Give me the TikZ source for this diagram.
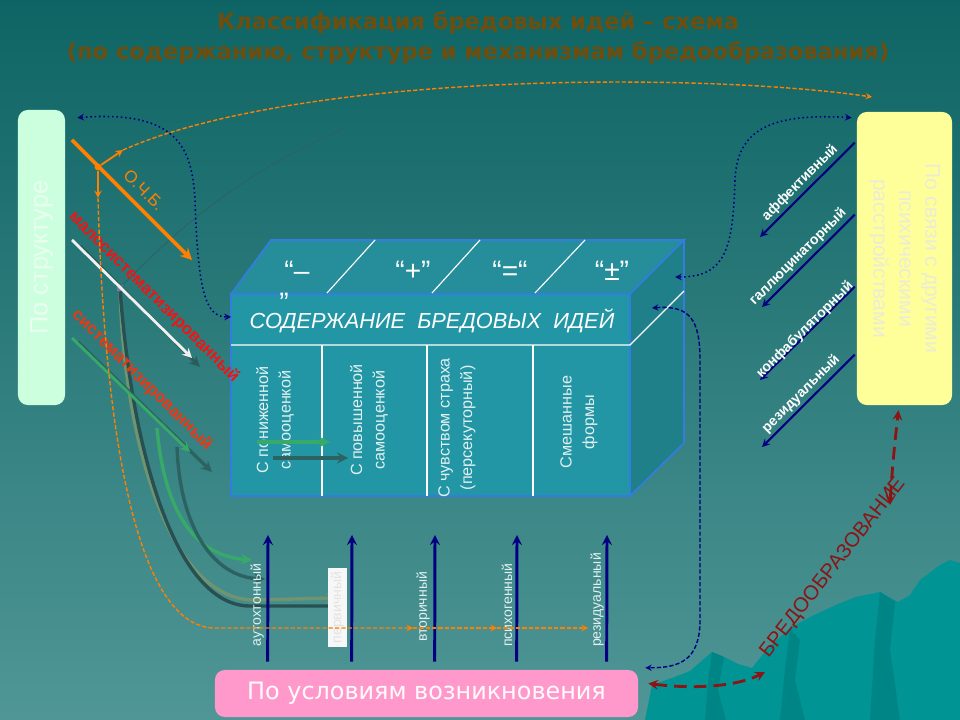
\documentclass[tikz,border=0pt]{standalone}
\usepackage{fontspec}
\setmainfont{Liberation Sans}
\newfontfamily\comicfont{DejaVu Sans}
\usepackage{graphicx}
\usepackage{tikz}
\usetikzlibrary{shapes.geometric, arrows}

\definecolor{bgtop}{RGB}{14,100,100}
\definecolor{bgbot}{RGB}{80,150,150}
\definecolor{hill}{RGB}{0,148,148}
\definecolor{hilldark}{RGB}{0,133,135}
\definecolor{titlebrown}{RGB}{110,78,14}
\definecolor{mint}{RGB}{204,255,221}
\definecolor{minttext}{RGB}{234,255,242}
\definecolor{lemon}{RGB}{255,255,153}
\definecolor{lemontext}{RGB}{236,236,214}
\definecolor{pinkpanel}{RGB}{255,153,204}
\definecolor{boxfront}{RGB}{34,150,165}
\definecolor{boxtop}{RGB}{38,142,154}
\definecolor{boxside}{RGB}{32,128,138}
\definecolor{boxedge}{RGB}{50,125,225}
\definecolor{colwhite}{RGB}{225,240,240}
\definecolor{navyarrow}{RGB}{0,0,128}
\definecolor{ocb}{RGB}{255,128,0}
\definecolor{redtext}{RGB}{240,20,20}
\definecolor{redorange}{RGB}{235,55,20}
\definecolor{darkred}{RGB}{140,20,20}
\definecolor{greenline}{RGB}{55,170,105}
\definecolor{grayline}{RGB}{110,148,112}
\definecolor{darkline}{RGB}{40,80,82}
\definecolor{tealline}{RGB}{45,98,98}
\definecolor{knotcolor}{RGB}{120,120,170}

\tikzstyle{panel} = [rectangle, rounded corners=7pt, inner sep=0pt]
\tikzstyle{titletext} = [align=center, text=titlebrown, font=\comicfont\bfseries\fontsize{16}{21.5}\selectfont]
\tikzstyle{headtext} = [text=white, font=\itshape\fontsize{15.5}{15.5}\selectfont]
\tikzstyle{quotetext} = [text=white, font=\fontsize{20}{20}\selectfont]
\tikzstyle{coltext} = [align=center, rotate=90, text=colwhite, font=\fontsize{11.5}{16}\selectfont]
\tikzstyle{sidetext} = [rotate=45, text=white, font=\bfseries\fontsize{10}{10}\selectfont]
\tikzstyle{bottomtext} = [rotate=90, text=colwhite, font=\fontsize{10}{10}\selectfont]
\tikzstyle{redlabel} = [rotate=-45, font=\bfseries\fontsize{12}{12}\selectfont]
\tikzstyle{navyup} = [line width=2.1pt, draw=navyarrow, ->, >=stealth]
\tikzstyle{navyside} = [line width=1.5pt, draw=navyarrow, ->, >=stealth]
\tikzstyle{dotlink} = [line width=1.1pt, draw=navyarrow, dotted, <->, >=stealth]
\tikzstyle{dashlink} = [line width=1pt, draw=navyarrow, dash pattern=on 3pt off 1.5pt, <->, >=stealth]
\tikzstyle{ocbthick} = [line width=2.6pt, draw=ocb, ->, >=stealth]
\tikzstyle{ocbthin} = [line width=1.3pt, draw=ocb, ->, >=stealth]
\tikzstyle{ocbdash} = [line width=1pt, draw=ocb, dash pattern=on 3pt off 1.5pt, ->, >=stealth]
\tikzstyle{reddash} = [line width=2pt, draw=darkred, dash pattern=on 9pt off 5pt, <->, >=stealth]
\tikzstyle{branch} = [line width=2.4pt, ->, >=stealth]

\begin{document}
\begin{tikzpicture}[x=0.025cm, y=-0.025cm]
			\useasboundingbox (0,0) rectangle (960,720);
			\shade[top color=bgtop, bottom color=bgbot] (0,0) rectangle (960,720);
			\fill[hill] (645,720) -- (652,685) -- (672,678) -- (690,671) -- (712,652) -- (724,657) -- (738,664) -- (752,668) -- (768,648) -- (790,628) -- (812,616) -- (838,604) -- (856,597) -- (880,592) -- (898,602) -- (910,595) -- (920,580) -- (940,565) -- (950,560) -- (960,563) -- (960,720) -- cycle;
			\fill[hilldark] (712,652) -- (724,657) -- (718,690) -- (726,720) -- (705,720) -- (708,680) -- cycle;
			\fill[hilldark] (790,628) -- (800,640) -- (795,680) -- (805,720) -- (780,720) -- (785,670) -- cycle;
			\fill[hilldark] (880,592) -- (895,602) -- (890,650) -- (900,720) -- (870,720) -- (875,640) -- cycle;

			\node (title) [titletext] at (478,38) {Классификация бредовых идей – схема\\(по содержанию, структуре и механизмам бредообразования)};

			\node (struct) [panel, fill=mint, minimum width=1.175cm, minimum height=7.375cm] at (41.5,257.5) {\rotatebox{90}{\color{minttext}\fontsize{18}{18}\selectfont По структуре}};
			\node (conn) [panel, fill=lemon, minimum width=2.375cm, minimum height=7.325cm] at (904.5,258.5) {\rotatebox{-90}{\color{lemontext}\fontsize{15}{18.5}\selectfont\begin{tabular}{@{}c@{}}По связи с другими\\психическими\\расстройствами\end{tabular}}};
			\node (cond) [panel, fill=pinkpanel, minimum width=10.575cm, minimum height=1.175cm] at (426.5,693.5) {\color{white!94!pink}\comicfont\fontsize{17}{17}\selectfont По условиям возникновения};

			\coordinate (ftl) at (231,294);
			\coordinate (ftr) at (630,294);
			\coordinate (fbr) at (630,496);
			\coordinate (btl) at (271,240);
			\coordinate (btr) at (684,240);
			\coordinate (bbr) at (684,443);
			\filldraw[fill=boxtop, draw=boxedge, line width=1.2pt] (ftl) -- (btl) -- (btr) -- (ftr) -- cycle;
			\filldraw[fill=boxside, draw=boxedge, line width=1.2pt] (ftr) -- (btr) -- (bbr) -- (fbr) -- cycle;
			\filldraw[fill=boxfront, draw=boxedge, line width=1.2pt] (ftl) rectangle (fbr);
			\draw[white, line width=0.8pt] (231,345) -- (630,345) -- (684,291);
			\draw[white, line width=0.8pt] (322,345) -- (322,496);
			\draw[white, line width=0.8pt] (427,345) -- (427,496);
			\draw[white, line width=0.8pt] (533,345) -- (533,496);
			\draw[white, line width=0.8pt] (327,293) -- (375,240);
			\draw[white, line width=0.8pt] (432,293) -- (480,240);
			\draw[white, line width=0.8pt] (535,293) -- (585,240);

			\node (content) [headtext] at (432,321) {СОДЕРЖАНИЕ\ \ БРЕДОВЫХ\ \ ИДЕЙ};
			\node (minus) [quotetext] at (297,271) {“–};
			\node (minusend) [quotetext] at (284,303) {”};
			\node (plus) [quotetext] at (413,271) {“+”};
			\node (equal) [quotetext] at (510,271) {“=“};
			\node (plusminus) [quotetext] at (612,271) {“±”};
			\node (low) [coltext] at (275,420) {С пониженной\\самооценкой};
			\node (high) [coltext] at (369,420) {С повышенной\\самооценкой};
			\node (fear) [coltext] at (457,428) {С чувством страха\\(персекуторный)};
			\node (mixed) [coltext] at (579,422) {Смешанные\\формы};

			\coordinate (aff) at (760,237);
			\coordinate (hall) at (762,307);
			\coordinate (confab) at (760,380);
			\coordinate (resid) at (762,447);
			\draw [navyside] ([shift={(-2,31)}]conn.north west) -- (aff);
			\draw [navyside] ([shift={(-2,103)}]conn.north west) -- (hall);
			\draw [navyside] ([shift={(-2,175)}]conn.north west) -- (confab);
			\draw [navyside] ([shift={(-2,243)}]conn.north west) -- (resid);
			\node (afflabel) [sidetext] at (800,183) {аффективный};
			\node (halllabel) [sidetext] at (798,257) {галлюцинаторный};
			\node (confablabel) [sidetext] at (805,330) {конфабуляторный};
			\node (residlabel) [sidetext] at (801,394) {резидуальный};

			\coordinate (lowsysstart) at (72,240);
			\coordinate (lowsysend) at (192,358);
			\coordinate (sysstart) at (72,338);
			\coordinate (sysend) at (190,452);
			\node (knot) [rectangle, fill=knotcolor, inner sep=0pt, minimum size=0.15cm] at (120,288) {};
			\coordinate (faintend) at (345,128);
			\draw[tealline, line width=0.6pt] (knot) .. controls (200,205) and (270,160) .. (faintend);
			\draw[branch, grayline] (knot) .. controls (124,430) and (165,598) .. (253,600) -- (337,598);
			\draw[branch, darkline] ([shift={(7,8)}]knot) .. controls (132,450) and (175,606) .. (250,606) -- (341,606);
			\coordinate (sysfork) at (157,428);
			\coordinate (sysfork2) at (177,447);
			\draw[branch, greenline] (sysfork) .. controls (165,520) and (200,556) .. (252,560);
			\draw[branch, tealline] (sysfork2) .. controls (180,530) and (215,577) .. (265,579);
			\draw[branch, darkline, opacity=0.7] ([shift={(8,6)}]lowsysstart) -- ([shift={(8,9)}]lowsysend);
			\draw[branch, white!88!gray, line width=2pt] (lowsysstart) -- (lowsysend);
			\draw[branch, tealline] ([shift={(6,4)}]sysstart) -- ([shift={(22,20)}]sysend);
			\draw[branch, greenline, line width=2pt] (sysstart) -- (sysend);
			\node (lowsys) [redlabel, text=redtext] at (154,297) {малосистематизированный};
			\node (sys) [redlabel, text=redorange] at (142,380) {систематизированный};

			\coordinate (lowA) at (257,442);
			\coordinate (highA) at (330,442);
			\coordinate (lowB) at (273,458);
			\coordinate (highB) at (348,458);
			\draw[branch, greenline] (lowA) -- (highA);
			\draw[branch, tealline] (lowB) -- (highB);

			\coordinate (a1) at (268,535);
			\coordinate (a2) at (352,535);
			\coordinate (a3) at (435,535);
			\coordinate (a4) at (517,535);
			\coordinate (a5) at (607,535);
			\node (primary) [bottomtext, fill=white!94!gray, text=white!78!gray, minimum width=1.975cm, minimum height=0.475cm, inner sep=0pt] at (337.5,607.5) {первичный};
			\draw [navyup] ([shift={(53,-8)}]cond.north west) -- (a1);
			\draw [navyup] ([shift={(137,-8)}]cond.north west) -- (a2);
			\draw [navyup] ([shift={(220,-8)}]cond.north west) -- (a3);
			\draw [navyup] ([shift={(302,-8)}]cond.north west) -- (a4);
			\draw [navyup] ([shift={(392,-8)}]cond.north west) -- (a5);
			\node (autoch) [bottomtext] at (257,605) {аутохтонный};
			\node (secondary) [bottomtext] at (423,607) {вторичный};
			\node (psychogen) [bottomtext] at (507,605) {психогенный};
			\node (residbottom) [bottomtext] at (597,600) {резидуальный};

			\coordinate (ocbstart) at (72,140);
			\coordinate (ocbend) at (192,260);
			\coordinate (ocbup) at (123,150);
			\coordinate (ocbdown) at (98,198);
			\coordinate (ocbtop) at (872,97);
			\coordinate (o1) at (413,628);
			\coordinate (o2) at (497,628);
			\coordinate (o3) at (588,628);
			\draw [ocbthick] (ocbstart) -- (ocbend);
			\node (ocbknot) [circle, fill=ocb, inner sep=0pt, minimum size=0.17cm] at (98,167) {};
			\draw [ocbthin] (ocbknot) -- (ocbup);
			\draw [ocbthin] (ocbknot) -- (ocbdown);
			\draw [ocbdash] (ocbup) .. controls (300,72) and (700,72) .. (ocbtop);
			\draw [ocbdash] (ocbdown) .. controls (105,450) and (140,628) .. (215,628) -- (o1);
			\draw [ocbdash] (o1) -- (o2);
			\draw [ocbdash] (o2) -- (o3);
			\node (ocblabel) [rotate=-45, text=ocb, font=\fontsize{12}{12}\selectfont] at (144,190) {О.Ч.Б.};

			\draw [dotlink] ([shift={(12,8)}]struct.north east) .. controls (180,110) and (192,150) .. (195,200) .. controls (198,290) and (205,317) .. ([shift={(0,23)}]ftl);
			\draw [dotlink] ([shift={(-5,6)}]conn.north west) .. controls (770,113) and (737,130) .. (735,180) .. controls (733,250) and (725,277) .. ([shift={(-9,37)}]btr);
			\draw [dashlink] ([shift={(-32,68)}]btr) .. controls (690,305) and (700,320) .. (700,360) -- (700,620) .. controls (700,660) and (680,668) .. ([shift={(7,-2)}]cond.north east);

			\coordinate (bredostart) at (765,672);
			\coordinate (bredoend) at (890,505);
			\node (bredo) [rotate=52, text=darkred, font=\fontsize{14.5}{14.5}\selectfont] at (833,568) {БРЕДООБРАЗОВАНИЕ};
			\draw [reddash] ([shift={(10,-10)}]cond.east) .. controls (700,690) and (740,685) .. (bredostart);
			\draw [reddash] (bredoend) .. controls (892,470) and (895,440) .. ([shift={(-6,5)}]conn.south);
		\end{tikzpicture}
\end{document}
